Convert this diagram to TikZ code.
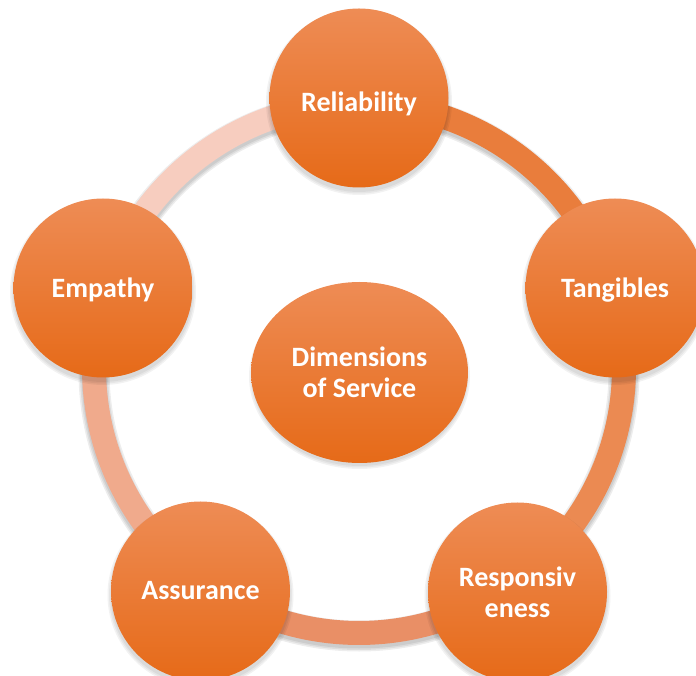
\documentclass[tikz,border=0pt]{standalone}
\usepackage{fontspec}
\setmainfont{Carlito}
\usetikzlibrary{shapes.geometric,calc}
\definecolor{cTop}{HTML}{EE8C55}
\definecolor{cMid}{HTML}{F27B2C}
\definecolor{cBot}{HTML}{E66A18}
\definecolor{aOne}{HTML}{E97D3C}
\definecolor{aTwo}{HTML}{EB8A52}
\definecolor{aThree}{HTML}{E98F66}
\definecolor{aFour}{HTML}{F0AA8C}
\definecolor{aFive}{HTML}{F7CDBF}
\newcommand{\lowered}[2]{\raisebox{#1}[\height][\depth]{#2}}
\begin{document}
\begin{tikzpicture}[x=1pt,y=1pt,
  bub/.style={circle, minimum size=179pt, inner sep=0pt, top color=cTop, middle color=cMid, bottom color=cBot, text=white, font=\bfseries\fontsize{28}{31}\selectfont, align=center},
  hub/.style={ellipse, minimum width=217pt, minimum height=181pt, inner sep=0pt, top color=cTop, middle color=cMid, bottom color=cBot, text=white, font=\bfseries\fontsize{28}{31}\selectfont, align=center},
  ringseg/.style={line width=24pt},
  shade/.style={fill=black, opacity=0.05}]
\useasboundingbox (0,0) rectangle (696,675);
\coordinate (c) at (359,307);
% ring shadow
\foreach \w in {31,28,25}{
  \draw[black, opacity=0.07, line width=\w pt] ([yshift=-3pt]c) circle[radius=265];
}
% ring segments
\draw[ringseg, aOne]   ([shift={(90:265)}]c) arc[start angle=90, end angle=17.35, radius=265];
\draw[ringseg, aTwo]   ([shift={(17.35:265)}]c) arc[start angle=17.35, end angle=-54.7, radius=265];
\draw[ringseg, aThree] ([shift={(-54.7:265)}]c) arc[start angle=-54.7, end angle=-125.4, radius=265];
\draw[ringseg, aFour]  ([shift={(-125.4:265)}]c) arc[start angle=-125.4, end angle=-197.35, radius=265];
\draw[ringseg, aFive]  ([shift={(162.65:265)}]c) arc[start angle=162.65, end angle=90, radius=265];
% bubble shadows
\foreach \px/\py in {359/577,615/387,517.5/83,200.5/84,103/387}{
  \foreach \r in {93,91.5,90}{
    \fill[shade] (\px,\py-4) circle[radius=\r];
  }
}
\foreach \r in {2,0.5,-1}{
  \fill[shade] (359.5,298.5) ellipse[x radius=108.5+\r, y radius=90.5+\r];
}
% bubbles
\node[bub] (rel) at (359,577) {\lowered{-6pt}{Reliability}};
\node[bub] (tan) at (615,387) {\lowered{-2pt}{Tangibles}};
\node[bub] (res) at (517.5,83) {Responsiv\\eness};
\node[bub] (ass) at (200.5,84) {Assurance};
\node[bub] (emp) at (103,387) {\lowered{-2pt}{Empathy}};
\node[hub] (dim) at (359.5,302.5) {Dimensions\\of Service};
\end{tikzpicture}
\end{document}
